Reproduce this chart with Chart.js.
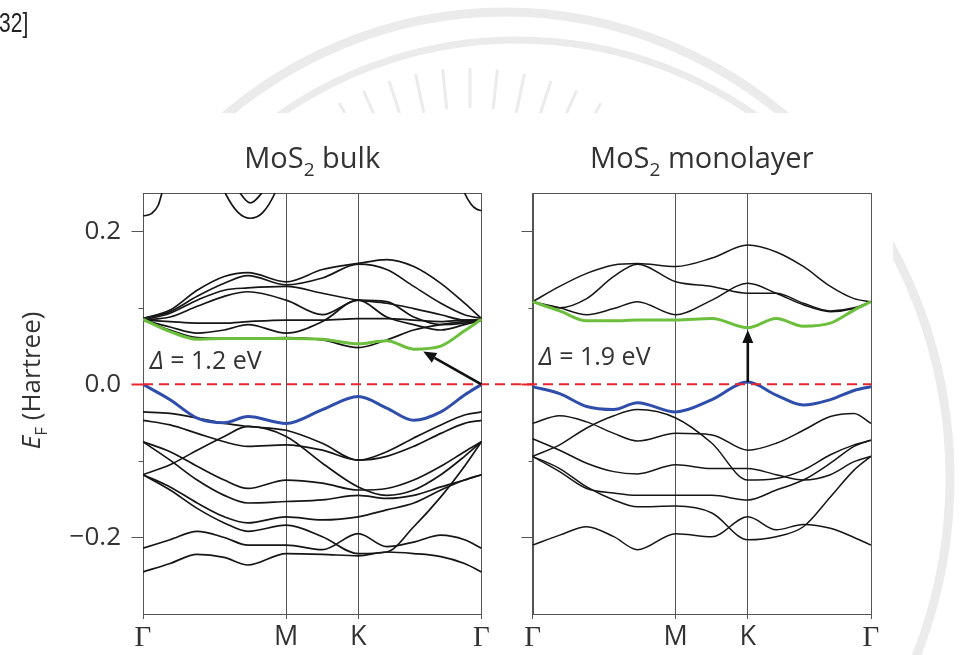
<!DOCTYPE html>
<html>
<head>
<meta charset="utf-8">
<script src="https://cdn.jsdelivr.net/npm/chart.js@4.4.1/dist/chart.umd.min.js"></script>
<style>
  html, body { margin: 0; padding: 0; background: #fff; }
  #wrap { width: 965px; height: 655px; }
</style>
</head>
<body>
<div id="wrap"><canvas id="bands" width="965" height="655"></canvas></div>
<script>
// path position along Γ-M-K-Γ (fraction of panel width), shared by all bands
const kPoints = [0, 0.08, 0.16, 0.24, 0.31, 0.423, 0.53, 0.636, 0.72, 0.80, 0.88, 0.95, 1];
const kTicks = [0, 0.423, 0.636, 1];
const kLabels = ['Γ', 'M', 'K', 'Γ'];
const yTicks = [-0.2, -0.1, 0, 0.1, 0.2];
const panelNames = ['bulk', 'monolayer'];
const gapLabels = ['1.2 eV', '1.9 eV'];
const fermiLevel = 0;

// MoS2 bulk (Hartree)
const bulkCBM = [0.085, 0.069, 0.059, 0.060, 0.060, 0.060, 0.059, 0.053, 0.057, 0.046, 0.050, 0.070, 0.085];
const bulkVBM = [0, -0.020, -0.044, -0.050, -0.042, -0.051, -0.033, -0.016, -0.031, -0.047, -0.036, -0.014, 0];
const bulkCond = [
  [0.086, 0.097, 0.123, 0.141, 0.146, 0.134, 0.150, 0.158, 0.163, 0.154, 0.132, 0.106, 0.086],
  [0.086, 0.095, 0.115, 0.132, 0.142, 0.130, 0.139, 0.157, 0.150, 0.128, 0.106, 0.091, 0.086],
  [0.084, 0.093, 0.110, 0.123, 0.126, 0.128, 0.119, 0.110, 0.106, 0.099, 0.091, 0.084, 0.084],
  [0.084, 0.088, 0.102, 0.115, 0.121, 0.110, 0.091, 0.110, 0.108, 0.088, 0.078, 0.080, 0.084],
  [0.084, 0.082, 0.080, 0.080, 0.082, 0.084, 0.084, 0.086, 0.086, 0.084, 0.082, 0.084, 0.084],
  [0.084, 0.075, 0.067, 0.071, 0.078, 0.067, 0.082, 0.110, 0.088, 0.078, 0.071, 0.078, 0.084],
  [0.084, 0.071, 0.061, 0.060, 0.060, 0.061, 0.058, 0.048, 0.058, 0.071, 0.078, 0.082, 0.084]
];
const bulkVal = [
  [-0.036, -0.038, -0.044, -0.051, -0.055, -0.060, -0.077, -0.099, -0.088, -0.070, -0.053, -0.040, -0.036],
  [-0.047, -0.053, -0.064, -0.075, -0.081, -0.079, -0.086, -0.099, -0.094, -0.081, -0.064, -0.051, -0.047],
  [-0.118, -0.105, -0.086, -0.068, -0.055, -0.068, -0.103, -0.134, -0.145, -0.138, -0.118, -0.094, -0.075],
  [-0.075, -0.088, -0.107, -0.125, -0.136, -0.125, -0.129, -0.138, -0.136, -0.125, -0.107, -0.088, -0.075],
  [-0.075, -0.099, -0.125, -0.145, -0.155, -0.153, -0.151, -0.145, -0.149, -0.145, -0.134, -0.125, -0.118],
  [-0.118, -0.134, -0.155, -0.173, -0.181, -0.173, -0.177, -0.173, -0.164, -0.155, -0.138, -0.125, -0.118],
  [-0.118, -0.138, -0.162, -0.181, -0.192, -0.184, -0.199, -0.221, -0.219, -0.186, -0.147, -0.107, -0.075],
  [-0.214, -0.203, -0.192, -0.200, -0.210, -0.210, -0.216, -0.195, -0.212, -0.206, -0.197, -0.203, -0.214],
  [-0.245, -0.234, -0.222, -0.226, -0.236, -0.221, -0.222, -0.224, -0.219, -0.221, -0.225, -0.234, -0.245]
];
// high bands that only peek in under the top of the bulk frame
const bulkTopK = [
  [0, 0.025, 0.045, 0.056, 0.07],
  [0.215, 0.243, 0.28, 0.317, 0.355, 0.39, 0.415],
  [0.275, 0.287, 0.317, 0.351, 0.365],
  [0.93, 0.95, 0.97, 0.985, 1]
];
const bulkTopE = [
  [0.220, 0.223, 0.234, 0.25, 0.27],
  [0.28, 0.25, 0.225, 0.217, 0.225, 0.25, 0.28],
  [0.26, 0.25, 0.237, 0.25, 0.26],
  [0.275, 0.25, 0.235, 0.229, 0.227]
];

// MoS2 monolayer (Hartree)
const monoCBM = [0.108, 0.096, 0.083, 0.083, 0.084, 0.084, 0.086, 0.074, 0.086, 0.076, 0.080, 0.097, 0.108];
const monoVBM = [-0.003, -0.012, -0.029, -0.033, -0.024, -0.036, -0.020, 0.003, -0.014, -0.027, -0.020, -0.008, -0.003];
const monoCond = [
  [0.108, 0.128, 0.145, 0.156, 0.158, 0.154, 0.165, 0.182, 0.173, 0.154, 0.128, 0.112, 0.108],
  [0.108, 0.100, 0.112, 0.141, 0.157, 0.134, 0.128, 0.119, 0.119, 0.106, 0.096, 0.100, 0.108],
  [0.108, 0.100, 0.091, 0.099, 0.108, 0.091, 0.110, 0.132, 0.119, 0.104, 0.095, 0.099, 0.108]
];
const monoVal = [
  [-0.051, -0.041, -0.049, -0.064, -0.074, -0.064, -0.066, -0.086, -0.077, -0.060, -0.042, -0.038, -0.051],
  [-0.094, -0.079, -0.057, -0.041, -0.033, -0.044, -0.077, -0.125, -0.123, -0.112, -0.092, -0.079, -0.073],
  [-0.071, -0.086, -0.103, -0.114, -0.117, -0.105, -0.110, -0.110, -0.118, -0.125, -0.118, -0.101, -0.094],
  [-0.094, -0.110, -0.134, -0.151, -0.160, -0.159, -0.168, -0.203, -0.199, -0.186, -0.147, -0.112, -0.094],
  [-0.094, -0.114, -0.136, -0.142, -0.145, -0.145, -0.145, -0.151, -0.138, -0.125, -0.103, -0.081, -0.073],
  [-0.210, -0.197, -0.186, -0.199, -0.216, -0.195, -0.199, -0.173, -0.190, -0.183, -0.188, -0.200, -0.210]
];

// gap arrows, [k, E] from -> to
const bulkGapArrow = [[1, 0], [0.828, 0.043]];
const monoGapArrow = [[0.636, 0.003], [0.636, 0.071]];

const GAP = 0.151;            // space between the two panels, in panel widths
const OFFS = [0, 1 + GAP];
const FONT = 'Open Sans';
const INK = '#333';

function band(ks, es, off, color, width, order) {
  return {
    data: ks.map((k, i) => ({ x: k + off, y: es[i] })),
    borderColor: color, borderWidth: width, pointRadius: 0,
    cubicInterpolationMode: 'monotone', fill: false, order: order
  };
}

const datasets = [];
bulkCond.concat(bulkVal).forEach(e => datasets.push(band(kPoints, e, OFFS[0], '#161616', 1.7, 3)));
bulkTopK.forEach((k, i) => datasets.push(band(k, bulkTopE[i], OFFS[0], '#161616', 1.7, 3)));
monoCond.concat(monoVal).forEach(e => datasets.push(band(kPoints, e, OFFS[1], '#161616', 1.5, 3)));
datasets.push(band(kPoints, bulkCBM, OFFS[0], '#6cbf3c', 3, 2));
datasets.push(band(kPoints, monoCBM, OFFS[1], '#6cbf3c', 3, 2));
datasets.push(band(kPoints, bulkVBM, OFFS[0], '#2f4dab', 3, 1));
datasets.push(band(kPoints, monoVBM, OFFS[1], '#2f4dab', 3, 1));
datasets.push({
  data: [{ x: 0, y: fermiLevel }, { x: 2 + GAP, y: fermiLevel }],
  borderColor: '#e8262e', borderWidth: 2, borderDash: [10, 6], pointRadius: 0, order: 0
});

const xTickValues = kTicks.concat(kTicks.map(k => k + OFFS[1]));
const xTickLabels = kLabels.concat(kLabels);

function drawParts(ctx, parts, x, y, align, base) {
  const fonts = parts.map(p => (p.italic ? 'italic ' : '') + (p.size || base) + 'px "' + FONT + '"');
  let w = 0;
  const widths = parts.map((p, i) => { ctx.font = fonts[i]; const m = ctx.measureText(p.t).width; w += m; return m; });
  let cx = align === 'center' ? x - w / 2 : x;
  parts.forEach((p, i) => {
    ctx.font = fonts[i];
    ctx.fillText(p.t, cx, y + (p.dy || 0));
    cx += widths[i];
  });
}

function drawArrow(ctx, x1, y1, x2, y2) {
  const a = Math.atan2(y2 - y1, x2 - x1), head = 13, half = 5.5;
  ctx.strokeStyle = '#111'; ctx.fillStyle = '#111'; ctx.lineWidth = 2.6;
  ctx.beginPath();
  ctx.moveTo(x1, y1);
  ctx.lineTo(x2 - head * Math.cos(a), y2 - head * Math.sin(a));
  ctx.stroke();
  ctx.beginPath();
  ctx.moveTo(x2, y2);
  ctx.lineTo(x2 - head * Math.cos(a) + half * Math.sin(a), y2 - head * Math.sin(a) - half * Math.cos(a));
  ctx.lineTo(x2 - head * Math.cos(a) - half * Math.sin(a), y2 - head * Math.sin(a) + half * Math.cos(a));
  ctx.closePath();
  ctx.fill();
}

const figureDecor = {
  id: 'figureDecor',
  beforeDraw(chart) {
    const ctx = chart.ctx;
    ctx.save();
    ctx.fillStyle = '#fff';
    ctx.fillRect(0, 0, chart.width, chart.height);
    // faint watermark of the page behind the pasted figure
    ctx.beginPath();
    ctx.rect(0, 0, chart.width, chart.height);
    ctx.rect(40, 113, 853, 542);
    ctx.clip('evenodd');
    ctx.strokeStyle = '#ebebeb';
    ctx.lineWidth = 9;
    ctx.beginPath(); ctx.ellipse(505, 478, 445, 466, 0, 0, 2 * Math.PI); ctx.stroke();
    ctx.lineWidth = 7;
    ctx.beginPath(); ctx.ellipse(517, 445, 410, 405, 0, 1.15 * Math.PI, 1.85 * Math.PI); ctx.stroke();
    ctx.lineWidth = 3;
    for (let d = -30; d <= 30; d += 6) {
      const a = d * Math.PI / 180;
      ctx.beginPath();
      ctx.moveTo(470 + 222 * Math.sin(a), 330 - 222 * Math.cos(a));
      ctx.lineTo(470 + 262 * Math.sin(a), 330 - 262 * Math.cos(a));
      ctx.stroke();
    }
    ctx.restore();
    ctx.save();
    ctx.fillStyle = '#222';
    ctx.font = '28px "Liberation Sans"';
    ctx.textBaseline = 'alphabetic';
    ctx.scale(0.75, 1);
    ctx.fillText('[32]', -9, 32);
    ctx.restore();
  },
  beforeDatasetsDraw(chart) {
    const ctx = chart.ctx, xs = chart.scales.x, ys = chart.scales.y, area = chart.chartArea;
    ctx.save();
    ctx.strokeStyle = '#555';
    ctx.lineWidth = 1;
    OFFS.forEach(off => {
      const l = Math.round(xs.getPixelForValue(off)) + 0.5;
      const r = Math.round(xs.getPixelForValue(off + 1)) + 0.5;
      ctx.strokeRect(l, Math.round(area.top) + 0.5, r - l, Math.round(area.bottom - area.top));
      yTicks.forEach(v => {
        const y = Math.round(ys.getPixelForValue(v)) + 0.5;
        const len = Math.round(v * 10) % 2 === 0 ? 12 : 5;
        ctx.strokeStyle = v === fermiLevel ? '#e8262e' : '#555';
        ctx.lineWidth = v === fermiLevel ? 2 : 1;
        ctx.beginPath(); ctx.moveTo(l - len, y); ctx.lineTo(l, y); ctx.stroke();
        ctx.strokeStyle = '#555'; ctx.lineWidth = 1;
      });
    });
    ctx.restore();
  },
  afterDatasetsDraw(chart) {
    const ctx = chart.ctx, xs = chart.scales.x, ys = chart.scales.y;
    const px = (k, off) => xs.getPixelForValue(k + off);
    ctx.save();
    // gap arrows
    [bulkGapArrow, monoGapArrow].forEach((a, i) => {
      drawArrow(ctx, px(a[0][0], OFFS[i]), ys.getPixelForValue(a[0][1]),
                px(a[1][0], OFFS[i]), ys.getPixelForValue(a[1][1]));
    });
    ctx.fillStyle = INK;
    ctx.textBaseline = 'middle';
    // Δ labels
    const labelAt = [[0.02, 0.029], [0.018, 0.035]];
    gapLabels.forEach((g, i) => {
      drawParts(ctx, [{ t: 'Δ', italic: true }, { t: ' = ' + g }],
        px(labelAt[i][0], OFFS[i]), ys.getPixelForValue(labelAt[i][1]), 'left', 25);
    });
    // panel titles
    ctx.textBaseline = 'alphabetic';
    panelNames.forEach((n, i) => {
      const cx = (px(0, OFFS[i]) + px(1, OFFS[i])) / 2;
      drawParts(ctx, [{ t: 'MoS' }, { t: '2', size: 19, dy: 8 }, { t: ' ' + n }], cx, 168, 'center', 29);
    });
    // y axis title
    ctx.translate(40, ys.getPixelForValue(fermiLevel) - 4);
    ctx.rotate(-Math.PI / 2);
    drawParts(ctx, [{ t: 'E', italic: true }, { t: 'F', size: 17, dy: 7 }, { t: ' (Hartree)' }], 0, 0, 'center', 26);
    ctx.restore();
  }
};

new Chart(document.getElementById('bands'), {
  type: 'line',
  data: { datasets: datasets },
  options: {
    responsive: false,
    animation: false,
    events: [],
    devicePixelRatio: 1,
    layout: { padding: { left: 0, top: 193, right: 94, bottom: 0 } },
    plugins: { legend: { display: false }, tooltip: { enabled: false } },
    scales: {
      x: {
        type: 'linear', min: 0, max: 2 + GAP,
        afterBuildTicks: s => { s.ticks = xTickValues.map(v => ({ value: v })); },
        afterFit: s => { s.height = 41; },
        grid: { color: '#555', lineWidth: 1, tickLength: 5 },
        border: { display: false },
        ticks: {
          autoSkip: false, maxRotation: 0, padding: 2, color: INK,
          callback: (v, i) => xTickLabels[i],
          font: c => xTickLabels[c.index] === 'Γ'
            ? { family: 'Liberation Serif', size: 29 }
            : { family: FONT, size: 27 }
        }
      },
      y: {
        type: 'linear', min: -0.30, max: 0.25,
        afterBuildTicks: s => { s.ticks = yTicks.map(v => ({ value: v })); },
        afterFit: s => { s.width = 143; },
        grid: { display: false, drawTicks: false },
        border: { display: false },
        ticks: {
          padding: 22, color: INK, font: { family: FONT, size: 26 },
          callback: v => Math.round(v * 10) % 2 === 0 ? (v < 0 ? '\u2212' : '') + Math.abs(v).toFixed(1) : ''
        }
      }
    }
  },
  plugins: [figureDecor]
});
</script>
</body>
</html>
